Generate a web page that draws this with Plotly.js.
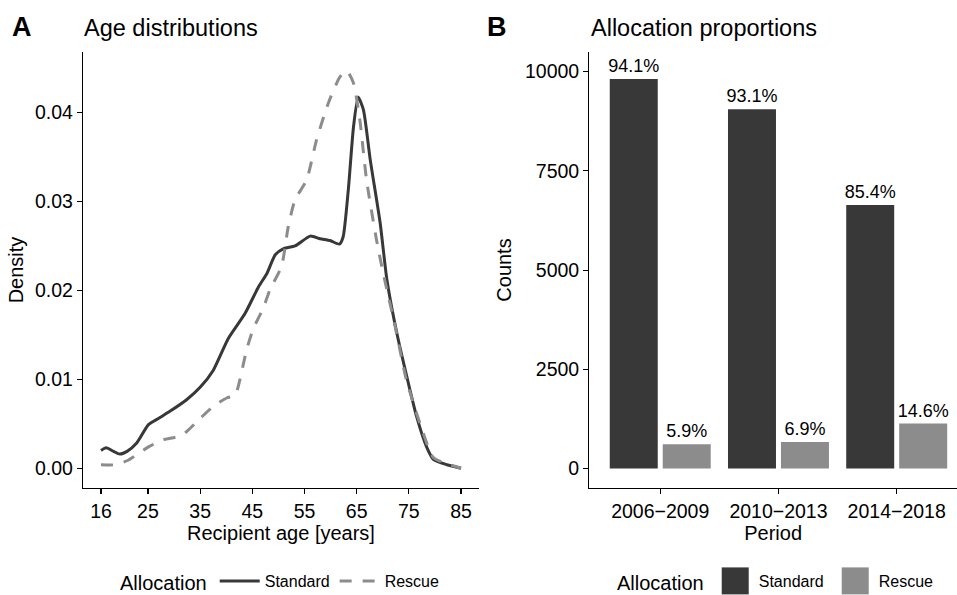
<!DOCTYPE html>
<html>
<head>
<meta charset="utf-8">
<script src="https://cdn.plot.ly/plotly-3.0.1.min.js"></script>
<style>html,body{margin:0;padding:0;background:#fff;}#chart{width:957px;height:595px;}</style>
</head>
<body>
<div id="chart"></div>
<script>
// Panel A: density curves
const ageStandard = [16, 17, 18.4, 19.6, 21, 22.8, 25.1, 27, 29.2, 32.4, 35, 37.5, 40.4, 43.6, 46.2, 47.8, 49.4, 51, 53.2, 56.1, 58, 59.9, 61.7, 62.4, 63.4, 64.4, 65.3, 66.3, 67.6, 69.5, 70.8, 72.7, 74.9, 76.5, 78.4, 79.7, 82.3, 85];
const densStandard = [0.0020, 0.0023, 0.0019, 0.0016, 0.0019, 0.0028, 0.0049, 0.0056, 0.0064, 0.0077, 0.0091, 0.0110, 0.0146, 0.0174, 0.0204, 0.0219, 0.0240, 0.0247, 0.0250, 0.0261, 0.0258, 0.0256, 0.0252, 0.0260, 0.0313, 0.0384, 0.0417, 0.0403, 0.0347, 0.0276, 0.0212, 0.0152, 0.0096, 0.0058, 0.0024, 0.0010, 0.0004, 0.0000];
const ageRescue = [16, 18.7, 21.2, 25.1, 27.9, 31.5, 35, 37.6, 40.1, 41.7, 42.6, 43.9, 45.2, 47.1, 48.4, 50.6, 51.9, 53.2, 55.4, 57.3, 59.6, 61.8, 63.1, 64.4, 65.6, 66.9, 68.8, 70.1, 72.4, 74.5, 77.1, 79.7, 82.3, 85];
const densRescue = [0.0004, 0.0004, 0.0009, 0.0024, 0.0032, 0.0037, 0.0056, 0.0070, 0.0079, 0.0082, 0.0099, 0.0133, 0.0157, 0.0180, 0.0201, 0.0227, 0.0272, 0.0302, 0.0324, 0.0369, 0.0411, 0.0440, 0.0447, 0.0433, 0.0392, 0.0324, 0.0257, 0.0219, 0.0159, 0.0100, 0.0051, 0.0012, 0.0005, 0.0000];
const ageTicks = [16, 25, 35, 45, 55, 65, 75, 85];
const densTicks = [0, 0.01, 0.02, 0.03, 0.04];

// Panel B: counts per period
const periods = ['2006\u22122009', '2010\u22122013', '2014\u22122018'];
const standardCounts = [9811, 9050, 6640];
const rescueCounts = [612, 670, 1135];
const standardPct = ['94.1%', '93.1%', '85.4%'];
const rescuePct = ['5.9%', '6.9%', '14.6%'];
const countTicks = [0, 2500, 5000, 7500, 10000];

const DARK = '#383838';
const GREY = '#8c8c8c';
const FONT = 'Liberation Sans, Arial, Helvetica, sans-serif';

const traces = [
  {x: ageStandard, y: densStandard, type: 'scatter', mode: 'lines', name: 'Standard',
   line: {color: DARK, width: 3, shape: 'spline', smoothing: 0.6}, xaxis: 'x', yaxis: 'y', legend: 'legend'},
  {x: ageRescue, y: densRescue, type: 'scatter', mode: 'lines', name: 'Rescue',
   line: {color: GREY, width: 3, dash: '12px,11px', shape: 'spline', smoothing: 0.6}, xaxis: 'x', yaxis: 'y', legend: 'legend'},
  {x: periods, y: standardCounts, type: 'bar', name: 'Standard', marker: {color: DARK},
   text: standardPct, textposition: 'outside', cliponaxis: false, constraintext: 'none',
   textfont: {size: 18, color: '#000', family: FONT}, xaxis: 'x2', yaxis: 'y2', legend: 'legend2'},
  {x: periods, y: rescueCounts, type: 'bar', name: 'Rescue', marker: {color: GREY},
   text: rescuePct, textposition: 'outside', cliponaxis: false, constraintext: 'none',
   textfont: {size: 18, color: '#000', family: FONT}, xaxis: 'x2', yaxis: 'y2', legend: 'legend2'}
];

const axisCommon = {
  showline: true, linecolor: '#000', linewidth: 1.2, ticks: 'outside', ticklen: 5,
  tickcolor: '#000', tickwidth: 1.1, showgrid: false, zeroline: false,
  tickfont: {size: 19.5, color: '#000', family: FONT}, automargin: false
};

const yDom = [107/595, 543/595];

const layout = {
  width: 957, height: 595,
  margin: {l: 0, r: 0, t: 0, b: 0, autoexpand: false},
  paper_bgcolor: '#fff', plot_bgcolor: '#fff',
  font: {family: FONT, color: '#000'},
  barmode: 'group', bargap: 0.104, bargroupgap: 0.094,
  xaxis: Object.assign({}, axisCommon, {
    domain: [83/957, 479/957], range: [12.55, 88.45], tickvals: ageTicks, ticktext: ageTicks.map(String),
    anchor: 'y', title: {text: 'Recipient age [years]', font: {size: 20, color: '#000'}, standoff: 0}
  }),
  yaxis: Object.assign({}, axisCommon, {
    domain: yDom, range: [-0.00222, 0.0468], tickvals: densTicks, tickformat: '.2f',
    anchor: 'x', title: {text: 'Density', font: {size: 20, color: '#000'}, standoff: 6}
  }),
  xaxis2: Object.assign({}, axisCommon, {
    domain: [589.3/957, 1], range: [-0.6, 2.51], type: 'category',
    anchor: 'y2', title: {text: 'Period', font: {size: 20, color: '#000'}, standoff: 0}
  }),
  yaxis2: Object.assign({}, axisCommon, {
    domain: yDom, range: [-489, 10492], tickvals: countTicks, ticktext: countTicks.map(String),
    anchor: 'x2', title: {text: 'Counts', font: {size: 20, color: '#000'}, standoff: 8}
  }),
  showlegend: true,
  legend: {
    orientation: 'h', x: 118/957, xanchor: 'left', y: 13/595, yanchor: 'middle',
    title: {text: 'Allocation', font: {size: 20, color: '#000'}, side: 'left'},
    font: {size: 16, color: '#000'}, bgcolor: 'rgba(0,0,0,0)', itemwidth: 40
  },
  legend2: {
    orientation: 'h', x: 615/957, xanchor: 'left', y: 13/595, yanchor: 'middle',
    title: {text: 'Allocation', font: {size: 20, color: '#000'}, side: 'left'},
    font: {size: 16, color: '#000'}, bgcolor: 'rgba(0,0,0,0)', itemwidth: 37,
    entrywidth: 68, entrywidthmode: 'pixels'
  },
  annotations: [
    {text: '<b>A</b>', x: 22/957, y: (595-27)/595, xref: 'paper', yref: 'paper', showarrow: false,
     xanchor: 'center', yanchor: 'middle', font: {size: 27, color: '#000'}},
    {text: 'Age distributions', x: 82/957, y: (595-28)/595, xref: 'paper', yref: 'paper', showarrow: false,
     xanchor: 'left', yanchor: 'middle', font: {size: 23.5, color: '#000'}},
    {text: '<b>B</b>', x: 497/957, y: (595-27)/595, xref: 'paper', yref: 'paper', showarrow: false,
     xanchor: 'center', yanchor: 'middle', font: {size: 27, color: '#000'}},
    {text: 'Allocation proportions', x: 589/957, y: (595-28)/595, xref: 'paper', yref: 'paper', showarrow: false,
     xanchor: 'left', yanchor: 'middle', font: {size: 23.5, color: '#000'}}
  ]
};

Plotly.newPlot('chart', traces, layout, {displayModeBar: false, staticPlot: true}).then(function (gd) {
  // enlarge the bar-legend keys to match the large square keys of the reference
  gd.querySelectorAll('.legend2 .legendpoints path').forEach(function (p) {
    const old = p.getAttribute('transform') || '';
    p.setAttribute('transform', old + ' scale(2.25)');
  });
});
</script>
</body>
</html>
